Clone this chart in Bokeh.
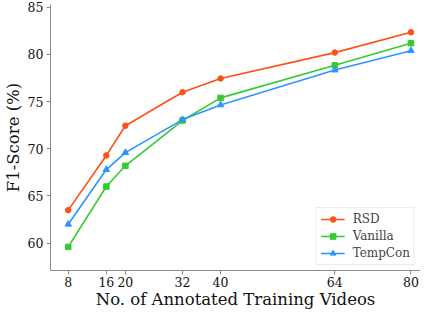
from bokeh.plotting import figure
from bokeh.models import Range1d, FixedTicker
from bokeh.embed import file_html
from bokeh.resources import INLINE

videos = [8, 16, 20, 32, 40, 64, 80]
rsd = [63.5, 69.3, 72.45, 76.0, 77.45, 80.2, 82.35]
vanilla = [59.6, 66.0, 68.2, 73.0, 75.4, 78.85, 81.2]
tempcon = [62.0, 67.8, 69.6, 73.1, 74.65, 78.35, 80.4]
x_ticks = [8, 16, 20, 32, 40, 64, 80]
y_ticks = [60, 65, 70, 75, 80, 85]
x_title = "No. of Annotated Training Videos"
y_title = "F1-Score (%)"

FONT = "DejaVu Serif"
X0, X1 = 4.27, 82.0
Y0, Y1 = 57.1, 85.3

p = figure(width=420, height=311, output_backend="svg", toolbar_location=None,
           x_range=Range1d(X0, X1), y_range=Range1d(Y0, Y1),
           min_border_left=38, min_border_right=0, min_border_top=4, min_border_bottom=0)

p.outline_line_color = None
p.xgrid.visible = False
p.ygrid.visible = False

series = [
    ("RSD", rsd, "#ff4f14", "circle"),
    ("Vanilla", vanilla, "#33cc33", "square"),
    ("TempCon", tempcon, "#2b95ff", "triangle"),
]
for name, vals, col, marker in series:
    p.line(videos, vals, line_color=col, line_width=1.6, legend_label=name)
    p.scatter(videos, vals, marker=marker, size=5.5 if marker != "triangle" else 6.5,
              fill_color=col, line_color=col, legend_label=name)

for ax in (p.xaxis[0], p.yaxis[0]):
    ax.axis_line_color = "#8c8c8c"
    ax.major_tick_line_color = "#8c8c8c"
    ax.major_tick_out = 4
    ax.major_tick_in = 0
    ax.minor_tick_line_color = None
    ax.major_label_text_font = FONT
    ax.major_label_text_font_size = "12.5px"
    ax.major_label_text_color = "#111111"
    ax.major_label_text_line_height = 1.0
    ax.axis_label_text_font = FONT
    ax.axis_label_text_font_size = "16.5px"
    ax.axis_label_text_font_style = "normal"
    ax.axis_label_text_color = "#111111"
    ax.axis_label_text_line_height = 1.0

p.xaxis.ticker = FixedTicker(ticks=x_ticks)
p.yaxis.ticker = FixedTicker(ticks=y_ticks)
p.xaxis.axis_label = x_title
p.yaxis.axis_label = y_title
p.xaxis.major_label_standoff = 2
p.xaxis.axis_label_standoff = 0
p.yaxis.major_label_standoff = 3
p.yaxis.axis_label_standoff = 2

lg = p.legend[0]
lg.location = "bottom_right"
lg.label_text_font = FONT
lg.label_text_font_size = "12px"
lg.border_line_color = "#d9d9d9"
lg.border_line_width = 1
lg.background_fill_alpha = 0.9
lg.glyph_width = 24
lg.glyph_height = 14
lg.label_height = 14
lg.spacing = 3
lg.padding = 4
lg.margin = 5
lg.label_standoff = 8

open("out.html", "w").write(file_html(p, INLINE))
